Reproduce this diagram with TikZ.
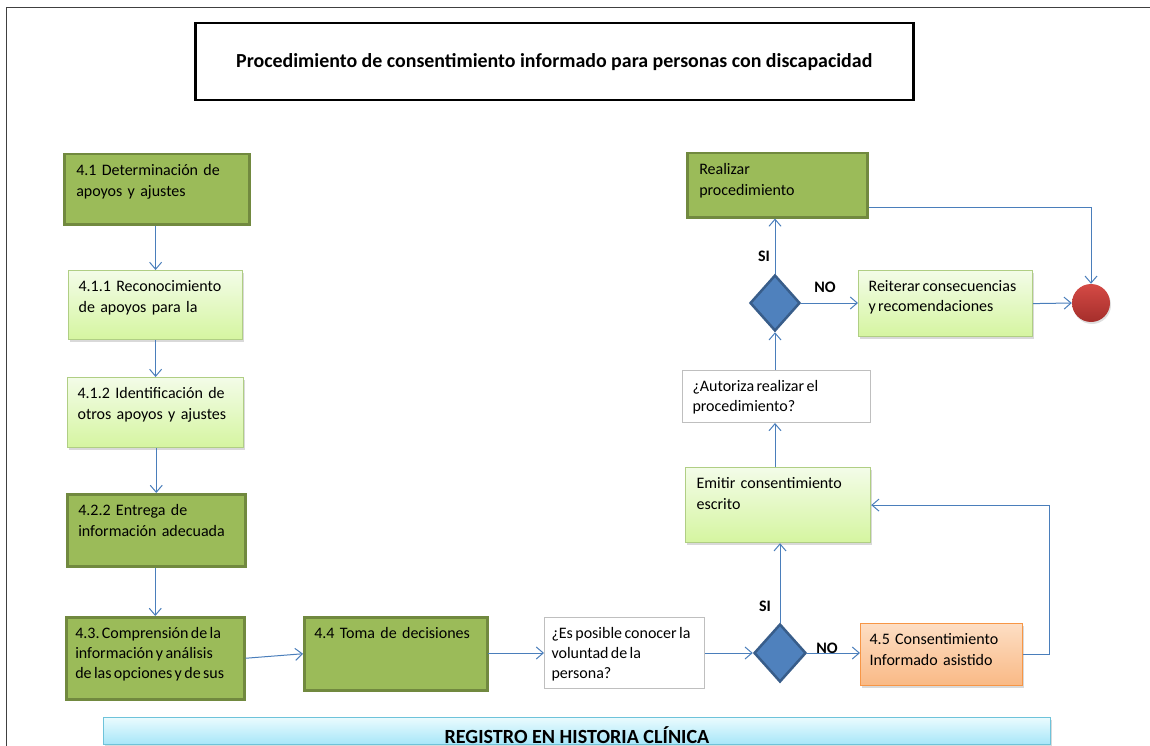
\documentclass[tikz,border=0pt]{standalone}
\usepackage{fontspec}
\setmainfont{Carlito}
\frenchspacing
\usetikzlibrary{shapes.geometric, arrows.meta, shadows}
\definecolor{flowblue}{HTML}{4A7EBB}
\definecolor{olivefill}{HTML}{9BBB59}
\definecolor{olivedark}{HTML}{71893F}
\definecolor{limetop}{HTML}{F3FCE8}
\definecolor{limebot}{HTML}{D5F5A0}
\definecolor{limeline}{HTML}{B0CE84}
\definecolor{peachtop}{HTML}{FDDEC4}
\definecolor{peachbot}{HTML}{F9B985}
\definecolor{peachline}{HTML}{F79646}
\definecolor{skytop}{HTML}{EAFBFE}
\definecolor{skybot}{HTML}{A6E6F8}
\definecolor{skyline}{HTML}{6EC3DA}
\definecolor{decfill}{HTML}{4F81BD}
\definecolor{decline}{HTML}{385D8A}
\definecolor{endtop}{HTML}{D44A45}
\definecolor{endbot}{HTML}{A52E2B}
\tikzset{
  flow/.style={draw=flowblue, line width=1pt, -{Straight Barb[length=7pt,width=12pt]}},
  box/.style={anchor=north west, align=left, inner ysep=8pt, text height=13pt},
  tight/.style={font=\fontsize{16}{20}\selectfont, execute at begin node={\spaceskip=.15em plus .05em}},
  darkbox/.style={box, draw=olivedark, line width=2.5pt, fill=olivefill},
  lightbox/.style={box, draw=limeline, line width=1.2pt, top color=limetop, bottom color=limebot,
    drop shadow={shadow xshift=1.5pt, shadow yshift=-2.5pt, opacity=.3}},
  askbox/.style={box, draw=black!25, line width=1pt, fill=white},
  helpbox/.style={box, draw=peachline, line width=1.2pt, top color=peachtop, bottom color=peachbot,
    drop shadow={shadow xshift=1.5pt, shadow yshift=-2.5pt, opacity=.3}},
  decision/.style={diamond, draw=decline, line width=2.5pt, fill=decfill, inner sep=0pt,
    minimum width=52pt, minimum height=58pt},
  answer/.style={font=\fontsize{16}{18}\selectfont\bfseries},
}
\begin{document}
\begin{tikzpicture}[x=1pt, y=-1pt, font=\fontsize{16}{21}\selectfont]
\useasboundingbox (0,0) rectangle (1150,746);
\draw[black!75, line width=1.5pt] (6.5,746) -- (6.5,7.5) -- (1150,7.5);

% title
\node[draw, line width=2.5pt, anchor=north west, minimum width=718pt, minimum height=77pt,
  font=\fontsize{19.9}{22}\selectfont\bfseries] (title) at (194,22)
  {Procedimiento de consentimiento informado para personas con discapacidad};

% left column
\node[darkbox, text width=161pt, text depth=41pt, inner xsep=12pt] (det) at (63,153) {4.1 Determinación de\\apoyos y ajustes};
\node[lightbox, text width=154pt, text depth=40pt, inner xsep=10pt] (rec) at (68,270) {4.1.1 Reconocimiento\\de apoyos para la};
\node[lightbox, text width=156pt, text depth=41pt, inner xsep=10pt] (ide) at (67,377) {4.1.2 Identificación de\\otros apoyos y ajustes};
\node[darkbox, text width=156pt, text depth=43pt, inner xsep=11pt] (ent) at (66,493) {4.2.2 Entrega de\\información adecuada};
\node[darkbox, tight, text width=160pt, text depth=53pt, inner xsep=9pt] (com) at (65,616) {4.3. Comprensión de la\\información y análisis\\de las opciones y de sus};

% bottom row
\node[darkbox, text width=163pt, text depth=44pt, inner xsep=10pt] (tom) at (303,616) {4.4 Toma de decisiones};
\node[askbox, tight, text width=146pt, text depth=42pt, inner xsep=7pt] (pos) at (544,617) {¿Es posible conocer la\\voluntad de la\\persona?};
\node[decision] (d1) at (780,653) {};
\node[helpbox, text width=144pt, text depth=33pt, inner xsep=9pt] (asi) at (860,623) {4.5 Consentimiento\\Informado asistido};

% right column
\node[lightbox, text width=163pt, text depth=46pt, inner xsep=11pt] (emi) at (685,467) {Emitir consentimiento\\escrito};
\node[askbox, tight, text width=168pt, text depth=23pt, inner xsep=10pt] (aut) at (682,370) {¿Autoriza realizar el\\procedimiento?};
\node[decision, minimum width=50pt, minimum height=56pt] (d2) at (775,303) {};
\node[darkbox, text width=156pt, text depth=35pt, inner xsep=12pt] (rea) at (686,152) {Realizar\\procedimiento};
\node[lightbox, tight, text width=154pt, text depth=37pt, inner xsep=10pt] (rei) at (858,270) {Reiterar consecuencias\\y recomendaciones};
\node[circle, minimum size=38pt, inner sep=0pt, top color=endtop, bottom color=endbot,
  drop shadow={shadow xshift=1pt, shadow yshift=-2pt, opacity=.25}] (fin) at (1091,303) {};

% record bar
\node[draw=skyline, line width=1.2pt, top color=skytop, bottom color=skybot, anchor=north west,
  minimum width=947pt, minimum height=27pt, inner sep=0pt,
  drop shadow={shadow xshift=1.5pt, shadow yshift=-2pt, opacity=.3}] (reg) at (103,717) {};
\node[font=\fontsize{20.1}{22}\selectfont\bfseries, anchor=base] (regtxt) at (577,743) {REGISTRO EN HISTORIA CLÍNICA};

% transitions
\draw[flow] (det.south -| rec.north) -- (rec.north);
\draw[flow] (rec.south) -- (ide.north);
\draw[flow] (ide.south -| ent.north) -- (ent.north);
\draw[flow] (ent.south -| com.north) -- (com.north);
\draw[flow] (com.east) -- (tom.west);
\draw[flow] (tom.east) -- (pos.west -| tom.east) -- (pos.west);
\draw[flow] (pos.east) -- (d1.west);
\draw[flow] (d1.east) -- (d1.east -| asi.west);
\draw[flow] (d1.north) -- (d1.north |- emi.south);
\draw[flow] (asi.east) -- ++(26,0) |- (emi.east);
\draw[flow] (emi.north -| d2.south) -- (aut.south -| d2.south);
\draw[flow] (aut.north -| d2.south) -- (d2.south);
\draw[flow] (d2.north) -- (rea.south -| d2.north);
\draw[flow] (d2.east) -- (d2.east -| rei.west);
\draw[flow] (rei.east) -- (fin.west);
\draw[flow] ([yshift=-22pt]rea.east) -| (fin.north);

% answers
\node[answer] (si1) at (765,606) {SI};
\node[answer] (no1) at (827,648) {NO};
\node[answer] (si2) at (764,256) {SI};
\node[answer] (no2) at (825,287) {NO};
\end{tikzpicture}
\end{document}
